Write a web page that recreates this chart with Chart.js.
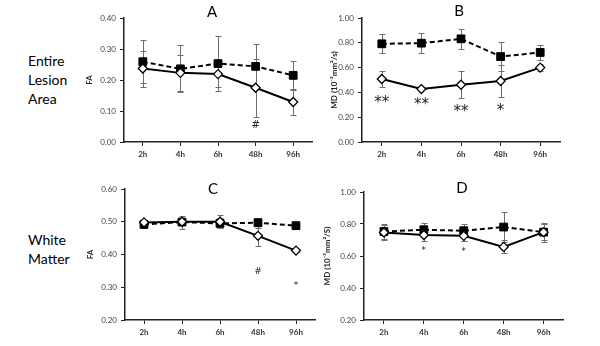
<!DOCTYPE html>
<html>
<head>
<meta charset="UTF-8">
<title>FA and MD time course</title>
<script src="https://cdn.jsdelivr.net/npm/chart.js@4.4.1/dist/chart.umd.min.js"></script>
<style>
    body { margin: 0; background: #fff; font-family: Lato, sans-serif; color: #000; }
    #wrap { position: relative; width: 600px; height: 346px; overflow: hidden; }
    canvas { position: absolute; }
    .row-label { position: absolute; left: 28px; font-size: 14px; line-height: 19px; }
    .letter { position: absolute; width: 40px; text-align: center; font-size: 15px; line-height: 1; }
</style>
</head>
<body>
<div id="wrap">
    <div class="row-label" style="top:51px">Entire<br>Lesion<br>Area</div>
    <div class="row-label" style="top:230px">White<br>Matter</div>

    <canvas id="chartA" width="265" height="172" style="left:60px;top:0px"></canvas>
    <canvas id="chartB" width="250" height="172" style="left:320px;top:0px"></canvas>
    <canvas id="chartC" width="265" height="176" style="left:60px;top:170px"></canvas>
    <canvas id="chartD" width="250" height="176" style="left:320px;top:170px"></canvas>

    <div class="letter" style="left:192px;top:4px">A</div>
    <div class="letter" style="left:439px;top:3px">B</div>
    <div class="letter" style="left:193px;top:181px">C</div>
    <div class="letter" style="left:442px;top:180px">D</div>
</div>

<script>
    var hours = ['2h', '4h', '6h', '48h', '96h'];

    // Entire lesion area, FA
    var faLesionSquare = [0.259, 0.236, 0.253, 0.244, 0.215];
    var faLesionSquareErr = [0.070, 0.076, 0.089, 0.073, 0.046];
    var faLesionDiamond = [0.237, 0.223, 0.219, 0.175, 0.129];
    var faLesionDiamondErr = [0.058, 0.058, 0.043, 0.094, 0.043];
    var faLesionMarks = ['', '', '', '#', ''];
    var faLesionMarkAt = [null, null, null, 0.055, null];

    // Entire lesion area, MD
    var mdLesionSquare = [0.792, 0.797, 0.832, 0.689, 0.722];
    var mdLesionSquareErr = [0.078, 0.080, 0.080, 0.114, 0.060];
    var mdLesionDiamond = [0.508, 0.427, 0.462, 0.492, 0.600];
    var mdLesionDiamondErr = [0.068, 0.010, 0.110, 0.132, 0.030];
    var mdLesionMarks = ['**', '**', '**', '*', ''];
    var mdLesionMarkAt = [0.338, 0.324, 0.265, 0.273, null];

    // White matter, FA
    var faWhiteSquare = [0.492, 0.499, 0.495, 0.497, 0.488];
    var faWhiteSquareErr = [0.012, 0.020, 0.015, 0.015, 0.005];
    var faWhiteDiamond = [0.498, 0.500, 0.500, 0.457, 0.412];
    var faWhiteDiamondErr = [0.005, 0.010, 0.020, 0.030, 0.005];
    var faWhiteMarks = ['', '', '', '#', '*'];
    var faWhiteMarkAt = [null, null, null, 0.348, 0.306];

    // White matter, MD
    var mdWhiteSquare = [0.753, 0.764, 0.758, 0.781, 0.749];
    var mdWhiteSquareErr = [0.045, 0.040, 0.040, 0.096, 0.060];
    var mdWhiteDiamond = [0.747, 0.731, 0.726, 0.657, 0.749];
    var mdWhiteDiamondErr = [0.045, 0.035, 0.030, 0.040, 0.050];
    var mdWhiteMarks = ['', '*', '*', '', ''];
    var mdWhiteMarkAt = [null, 0.645, 0.639, null, null];

    // vertical error bars with caps, drawn under the lines and markers
    var errorBars = {
        id: 'errorBars',
        beforeDatasetsDraw: function(chart) {
            var ctx = chart.ctx, y = chart.scales.y;
            ctx.save();
            ctx.strokeStyle = '#6e6e6e';
            ctx.lineWidth = 1;
            chart.data.datasets.forEach(function(ds, i) {
                chart.getDatasetMeta(i).data.forEach(function(pt, j) {
                    var top = Math.round(y.getPixelForValue(ds.data[j] + ds.errors[j])) + 0.5;
                    var bot = Math.round(y.getPixelForValue(ds.data[j] - ds.errors[j])) + 0.5;
                    var x = Math.round(pt.x) + 0.5;
                    ctx.beginPath();
                    ctx.moveTo(x, top); ctx.lineTo(x, bot);
                    ctx.moveTo(x - 3, top); ctx.lineTo(x + 3, top);
                    ctx.moveTo(x - 3, bot); ctx.lineTo(x + 3, bot);
                    ctx.stroke();
                });
            });
            ctx.restore();
        }
    };

    // significance symbols under the points
    var sigMarks = {
        id: 'sigMarks',
        afterDatasetsDraw: function(chart, args, opts) {
            var ctx = chart.ctx;
            ctx.save();
            ctx.fillStyle = '#222';
            ctx.font = opts.size + 'px "DejaVu Sans"';
            ctx.textAlign = 'center';
            ctx.textBaseline = 'middle';
            opts.labels.forEach(function(t, j) {
                if (!t) return;
                ctx.fillText(t, chart.scales.x.getPixelForValue(j), chart.scales.y.getPixelForValue(opts.at[j]) + opts.shift);
            });
            ctx.restore();
        }
    };

    function makePanel(id, p) {
        var ctx = document.getElementById(id).getContext('2d');
        return new Chart(ctx, {
            type: 'line',
            data: {
                labels: hours,
                datasets: [{
                    data: p.diamond,
                    errors: p.diamondErr,
                    borderColor: '#000',
                    borderWidth: 2,
                    pointStyle: 'rectRot',
                    pointRadius: 4.5,
                    pointBackgroundColor: '#fff',
                    pointBorderColor: '#000',
                    pointBorderWidth: 1.3
                }, {
                    data: p.square,
                    errors: p.squareErr,
                    borderColor: '#000',
                    borderWidth: 2,
                    borderDash: [5, 3],
                    pointStyle: 'rect',
                    pointRadius: 5.5,
                    pointBackgroundColor: '#000',
                    pointBorderColor: '#000',
                    pointBorderWidth: 1
                }]
            },
            options: {
                responsive: false,
                animation: false,
                layout: { padding: { left: 0, top: p.padTop, right: p.padRight, bottom: 0 } },
                plugins: {
                    legend: { display: false },
                    tooltip: { enabled: false },
                    sigMarks: { labels: p.marks, at: p.markAt, size: p.markSize, shift: p.markShift }
                },
                scales: {
                    x: {
                        offset: true,
                        afterFit: function(s) { s.height = p.xHeight; },
                        grid: { display: true, drawOnChartArea: false, offset: false, tickLength: 4, color: '#222' },
                        border: { color: '#222', width: 1.5 },
                        ticks: { padding: 4, color: '#333', font: { family: 'Lato', size: 8, weight: 'bold' } }
                    },
                    y: {
                        min: p.min,
                        max: p.max,
                        afterFit: function(s) { s.width = p.yWidth; },
                        grid: { display: true, drawOnChartArea: false, tickLength: 4, color: '#222' },
                        border: { color: '#222', width: 1.5 },
                        ticks: {
                            stepSize: p.step,
                            padding: 4,
                            color: '#444',
                            font: { family: 'Lato', size: 8 },
                            callback: function(v) { return v.toFixed(2); }
                        },
                        title: {
                            display: true,
                            text: p.title,
                            color: '#222',
                            padding: { top: p.titlePad, bottom: 0 },
                            font: { family: 'Lato', size: 8, weight: 'bold' }
                        }
                    }
                }
            },
            plugins: [errorBars, sigMarks]
        });
    }

    makePanel('chartA', {
        square: faLesionSquare, squareErr: faLesionSquareErr,
        diamond: faLesionDiamond, diamondErr: faLesionDiamondErr,
        marks: faLesionMarks, markAt: faLesionMarkAt, markSize: 10, markShift: 0,
        min: 0, max: 0.4, step: 0.1, title: 'FA',
        padTop: 18, padRight: 13, xHeight: 30, yWidth: 64, titlePad: 25
    });

    makePanel('chartB', {
        square: mdLesionSquare, squareErr: mdLesionSquareErr,
        diamond: mdLesionDiamond, diamondErr: mdLesionDiamondErr,
        marks: mdLesionMarks, markAt: mdLesionMarkAt, markSize: 15, markShift: 3,
        min: 0, max: 1, step: 0.2, title: 'MD (10\u207B\u00B3mm\u00B2/s)',
        padTop: 18, padRight: 10, xHeight: 30, yWidth: 42, titlePad: 10
    });

    makePanel('chartC', {
        square: faWhiteSquare, squareErr: faWhiteSquareErr,
        diamond: faWhiteDiamond, diamondErr: faWhiteDiamondErr,
        marks: faWhiteMarks, markAt: faWhiteMarkAt, markSize: 9, markShift: 0,
        min: 0.2, max: 0.6, step: 0.1, title: 'FA',
        padTop: 19, padRight: 10, xHeight: 26, yWidth: 65, titlePad: 26
    });

    makePanel('chartD', {
        square: mdWhiteSquare, squareErr: mdWhiteSquareErr,
        diamond: mdWhiteDiamond, diamondErr: mdWhiteDiamondErr,
        marks: mdWhiteMarks, markAt: mdWhiteMarkAt, markSize: 9, markShift: 2,
        min: 0.2, max: 1, step: 0.2, title: 'MD (10\u207B\u00B3mm\u00B2/S)',
        padTop: 22, padRight: 5, xHeight: 26, yWidth: 44, titlePad: 3
    });
</script>
</body>
</html>
